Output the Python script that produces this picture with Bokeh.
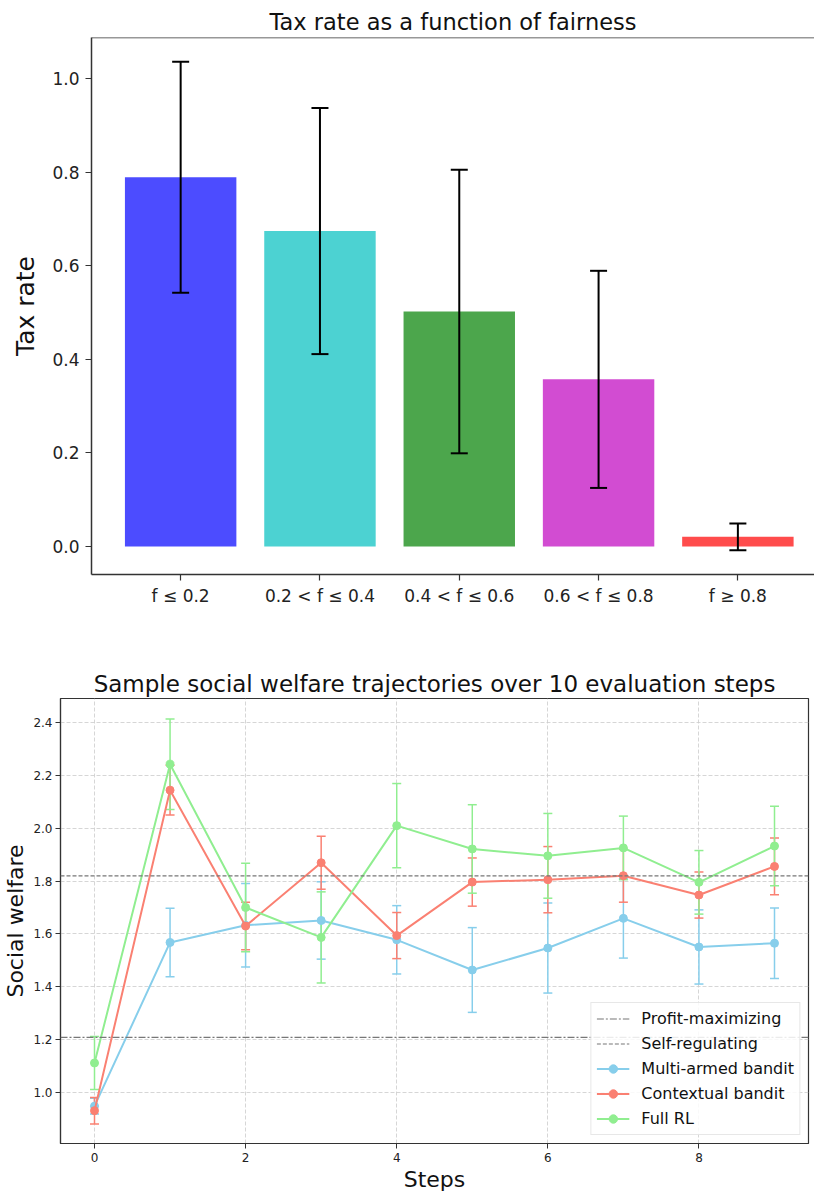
import math
from bokeh.plotting import figure
from bokeh.models import (Range1d, FixedTicker, Whisker, TeeHead, ColumnDataSource,
                          Span, Legend, LegendItem, NumeralTickFormatter)
from bokeh.layouts import column, row
from bokeh.embed import file_html
from bokeh.resources import INLINE

FONT = "DejaVu Sans"

# ---------------- data: top chart ----------------
categories = ["f ≤ 0.2", "0.2 < f ≤ 0.4", "0.4 < f ≤ 0.6", "0.6 < f ≤ 0.8", "f ≥ 0.8"]
tax_rate = [0.789, 0.674, 0.502, 0.357, 0.0205]
tax_err = [0.247, 0.263, 0.303, 0.232, 0.0285]
bar_colors = ["#0000FF", "#00BFBF", "#008000", "#BF00BF", "#FF0000"]
tax_ticks = [0.0, 0.2, 0.4, 0.6, 0.8, 1.0]

# ---------------- data: bottom chart ----------------
steps = [0, 1, 2, 3, 4, 5, 6, 7, 8, 9]
mab = [0.950, 1.568, 1.633, 1.651, 1.578, 1.464, 1.547, 1.659, 1.551, 1.565]
mab_err = [0.030, 0.129, 0.158, 0.146, 0.129, 0.160, 0.170, 0.150, 0.140, 0.133]
cb = [0.933, 2.143, 1.630, 1.869, 1.594, 1.796, 1.805, 1.820, 1.747, 1.855]
cb_err = [0.050, 0.094, 0.090, 0.100, 0.087, 0.091, 0.125, 0.100, 0.087, 0.107]
rl = [1.113, 2.241, 1.700, 1.587, 2.009, 1.921, 1.895, 1.925, 1.795, 1.932]
rl_err = [0.100, 0.171, 0.167, 0.172, 0.159, 0.167, 0.160, 0.120, 0.120, 0.150]
series_names = ["Multi-armed bandit", "Contextual bandit", "Full RL"]
series_colors = ["#87CEEB", "#FA8072", "#90EE90"]
profit_level = 1.21
selfreg_level = 1.819
welfare_ticks = [1.0, 1.2, 1.4, 1.6, 1.8, 2.0, 2.2, 2.4]
step_ticks = [0, 2, 4, 6, 8]

DASHDOT = "7 2 2 2"
DASHED = "4 2"

# ---------------- top figure ----------------
xpos = list(range(len(categories)))
src1 = ColumnDataSource(dict(
    x=xpos, top=tax_rate, color=bar_colors,
    upper=[v + e for v, e in zip(tax_rate, tax_err)],
    lower=[v - e for v, e in zip(tax_rate, tax_err)],
))

p1 = figure(width=814, height=640, output_backend="svg", toolbar_location=None,
            x_range=Range1d(-0.64, 4.55), y_range=Range1d(-0.06, 1.0876),
            min_border_left=91, min_border_right=0, min_border_top=37, min_border_bottom=66,
            title="Tax rate as a function of fairness")
p1.title.text_font = FONT
p1.title.text_font_size = "22.5px"
p1.title.text_font_style = "normal"
p1.title.text_color = "#111111"
p1.title.align = "center"
p1.title.standoff = 6
p1.outline_line_color = None
p1.grid.visible = False

p1.vbar(x="x", top="top", width=0.8, source=src1, fill_color="color",
        fill_alpha=0.7, line_color=None)
p1.add_layout(Whisker(base="x", upper="upper", lower="lower", source=src1, level="annotation",
                      line_color="black", line_width=2,
                      upper_head=TeeHead(size=17, line_color="black", line_width=2),
                      lower_head=TeeHead(size=17, line_color="black", line_width=2)))
p1.add_layout(Span(location=1.0876, dimension="width", line_color="#333333", line_width=1.5))

p1.xaxis.ticker = FixedTicker(ticks=xpos)
p1.xaxis.major_label_overrides = {i: c for i, c in zip(xpos, categories)}
p1.yaxis.ticker = FixedTicker(ticks=tax_ticks)
p1.yaxis.formatter = NumeralTickFormatter(format="0.0")
p1.yaxis.axis_label = "Tax rate"
for ax in (p1.xaxis, p1.yaxis):
    ax.axis_line_color = "#333333"
    ax.axis_line_width = 1.5
    ax.major_tick_line_color = "#333333"
    ax.major_tick_line_width = 1.2
    ax.major_tick_out = 6
    ax.major_tick_in = 0
    ax.minor_tick_line_color = None
    ax.major_label_text_font = FONT
    ax.major_label_text_font_size = "17px"
    ax.major_label_text_color = "#222222"
    ax.axis_label_text_font = FONT
    ax.axis_label_text_font_style = "normal"
    ax.axis_label_text_font_size = "25px"
    ax.axis_label_text_color = "#111111"
p1.xaxis.major_label_standoff = 5
p1.yaxis.major_label_standoff = 6
p1.yaxis.axis_label_standoff = 9

# ---------------- bottom figure ----------------
p2 = figure(width=814, height=554, output_backend="svg", toolbar_location=None,
            x_range=Range1d(-0.45, 9.45), y_range=Range1d(0.809, 2.489),
            min_border_left=60, min_border_right=6, min_border_top=58, min_border_bottom=51,
            title="Sample social welfare trajectories over 10 evaluation steps")
p2.title.text_font = FONT
p2.title.text_font_size = "23px"
p2.title.text_font_style = "normal"
p2.title.text_color = "#111111"
p2.title.align = "center"
p2.title.standoff = 4
p2.outline_line_color = "#333333"
p2.outline_line_width = 1.2

p2.xgrid.ticker = FixedTicker(ticks=step_ticks)
p2.ygrid.ticker = FixedTicker(ticks=welfare_ticks)
p2.grid.grid_line_color = "#cccccc"
p2.grid.grid_line_dash = "4 2"
p2.grid.grid_line_width = 0.8

p2.add_layout(Span(location=profit_level, dimension="width", line_color="#777777",
                   line_dash=DASHDOT, line_width=1.2))
p2.add_layout(Span(location=selfreg_level, dimension="width", line_color="#777777",
                   line_dash=DASHED, line_width=1.2))

nan = float("nan")
leg_profit = p2.line(x=[nan], y=[nan], line_color="#777777", line_dash=DASHDOT, line_width=1.2)
leg_self = p2.line(x=[nan], y=[nan], line_color="#777777", line_dash=DASHED, line_width=1.2)
items = [LegendItem(label="Profit-maximizing", renderers=[leg_profit]),
         LegendItem(label="Self-regulating", renderers=[leg_self])]

for name, vals, errs, col in zip(series_names, [mab, cb, rl], [mab_err, cb_err, rl_err], series_colors):
    src = ColumnDataSource(dict(
        x=steps, y=vals,
        upper=[v + e for v, e in zip(vals, errs)],
        lower=[v - e for v, e in zip(vals, errs)],
    ))
    p2.add_layout(Whisker(base="x", upper="upper", lower="lower", source=src,
                          line_color=col, line_width=1.5,
                          upper_head=TeeHead(size=9, line_color=col, line_width=1.5),
                          lower_head=TeeHead(size=9, line_color=col, line_width=1.5)))
    s_line = p2.line("x", "y", source=src, line_color=col, line_width=2)
    s_pts = p2.scatter("x", "y", source=src, size=8, fill_color=col, line_color=col)
    items.append(LegendItem(label=name, renderers=[s_line, s_pts]))

legend = Legend(items=items, location="bottom_right")
legend.label_text_font = FONT
legend.label_text_font_size = "16px"
legend.label_text_color = "#111111"
legend.border_line_color = "#d0d0d0"
legend.border_line_width = 1
legend.background_fill_alpha = 0.85
legend.glyph_width = 33
legend.glyph_height = 21
legend.label_height = 21
legend.spacing = 4
legend.padding = 5
legend.margin = 8
legend.label_standoff = 12
p2.add_layout(legend)

p2.xaxis.ticker = FixedTicker(ticks=step_ticks)
p2.yaxis.ticker = FixedTicker(ticks=welfare_ticks)
p2.yaxis.formatter = NumeralTickFormatter(format="0.0")
p2.xaxis.axis_label = "Steps"
p2.yaxis.axis_label = "Social welfare"
for ax in (p2.xaxis, p2.yaxis):
    ax.axis_line_color = "#333333"
    ax.axis_line_width = 1.2
    ax.major_tick_line_color = "#333333"
    ax.major_tick_out = 5
    ax.major_tick_in = 0
    ax.minor_tick_line_color = None
    ax.major_label_text_font = FONT
    ax.major_label_text_font_size = "12px"
    ax.major_label_text_color = "#222222"
    ax.axis_label_text_font = FONT
    ax.axis_label_text_font_style = "normal"
    ax.axis_label_text_font_size = "22px"
    ax.axis_label_text_color = "#111111"
    ax.major_label_standoff = 4
p2.yaxis.major_label_standoff = 3
p2.xaxis.axis_label_standoff = 2
p2.yaxis.axis_label_standoff = 2

layout = column(row(p1), row(p2), spacing=0)
open("out.html", "w").write(file_html(layout, INLINE))
